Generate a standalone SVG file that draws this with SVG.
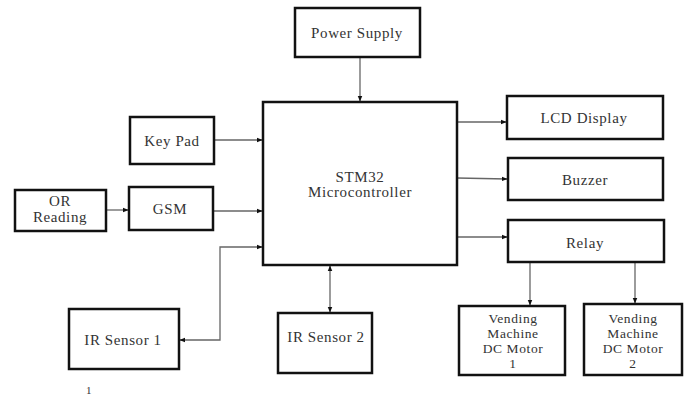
<svg xmlns="http://www.w3.org/2000/svg" width="689" height="398" viewBox="0 0 689 398">
<style>
.box{fill:#fff;stroke:#111;stroke-width:2.5}
.t{font-family:"Liberation Serif","Times New Roman",serif;font-size:15px;letter-spacing:0.6px;fill:#333;text-anchor:middle}
.s{font-size:13.5px}
.c{fill:none;stroke:#666;stroke-width:1.3}
</style>
<defs>
<marker id="a" viewBox="0 0 10 10" refX="9" refY="5" markerWidth="6" markerHeight="6" orient="auto-start-reverse" markerUnits="userSpaceOnUse">
<path d="M0,1 L10,5 L0,9 z" fill="#111"/>
</marker>
</defs>
<rect width="689" height="398" fill="#fff"/>
<g id="connectors">
<line class="c" x1="360" y1="57" x2="360" y2="101" marker-end="url(#a)"/>
<line class="c" x1="214" y1="140" x2="262" y2="140" marker-end="url(#a)"/>
<line class="c" x1="213" y1="211" x2="262" y2="211" marker-end="url(#a)"/>
<line class="c" x1="106" y1="210" x2="128" y2="210" marker-end="url(#a)"/>
<polyline class="c" points="180,340 220,340 220,247 262,247" marker-start="url(#a)" marker-end="url(#a)"/>
<line class="c" x1="330" y1="266" x2="330" y2="312" marker-start="url(#a)" marker-end="url(#a)"/>
<line class="c" x1="457" y1="122" x2="506" y2="122" marker-end="url(#a)"/>
<line class="c" x1="457" y1="178" x2="507" y2="179" marker-end="url(#a)"/>
<line class="c" x1="457" y1="237" x2="507" y2="237" marker-end="url(#a)"/>
<line class="c" x1="530" y1="262" x2="530" y2="305" marker-end="url(#a)"/>
<line class="c" x1="635" y1="262" x2="635" y2="303" marker-end="url(#a)"/>
</g>
<g id="power"><rect class="box" x="295" y="8" width="125" height="49"/><text class="t" x="357" y="38">Power Supply</text></g>
<g id="mcu"><rect class="box" x="263" y="102" width="194" height="163"/><text class="t" x="360" y="182">STM32</text><text class="t" x="360" y="197">Microcontroller</text></g>
<g id="keypad"><rect class="box" x="130" y="117" width="84" height="47"/><text class="t" x="172" y="146">Key Pad</text></g>
<g id="gsm"><rect class="box" x="129" y="187" width="84" height="43"/><text class="t" x="170" y="214">GSM</text></g>
<g id="or"><rect class="box" x="15" y="190" width="91" height="41"/><text class="t" x="60" y="206">OR</text><text class="t" x="60" y="222">Reading</text></g>
<g id="ir1"><rect class="box" x="69" y="309" width="110" height="60"/><text class="t" x="123" y="345">IR Sensor 1</text></g>
<g id="ir2"><rect class="box" x="278" y="313" width="94" height="60"/><text class="t" x="326" y="342">IR Sensor 2</text></g>
<g id="lcd"><rect class="box" x="507" y="96" width="156" height="43"/><text class="t" x="584" y="123">LCD Display</text></g>
<g id="buzzer"><rect class="box" x="508" y="158" width="155" height="42"/><text class="t" x="585" y="185">Buzzer</text></g>
<g id="relay"><rect class="box" x="508" y="220" width="156" height="42"/><text class="t" x="585" y="248">Relay</text></g>
<g id="motor1"><rect class="box" x="459" y="306" width="106" height="69"/><text class="t s" x="513" y="323">Vending</text><text class="t s" x="513" y="338">Machine</text><text class="t s" x="513" y="353">DC Motor</text><text class="t s" x="513" y="368">1</text></g>
<g id="motor2"><rect class="box" x="584" y="304" width="98" height="71"/><text class="t s" x="633" y="323">Vending</text><text class="t s" x="633" y="338">Machine</text><text class="t s" x="633" y="353">DC Motor</text><text class="t s" x="633" y="368">2</text></g>
<text class="t" x="89" y="394" style="font-size:11px">1</text>
</svg>
